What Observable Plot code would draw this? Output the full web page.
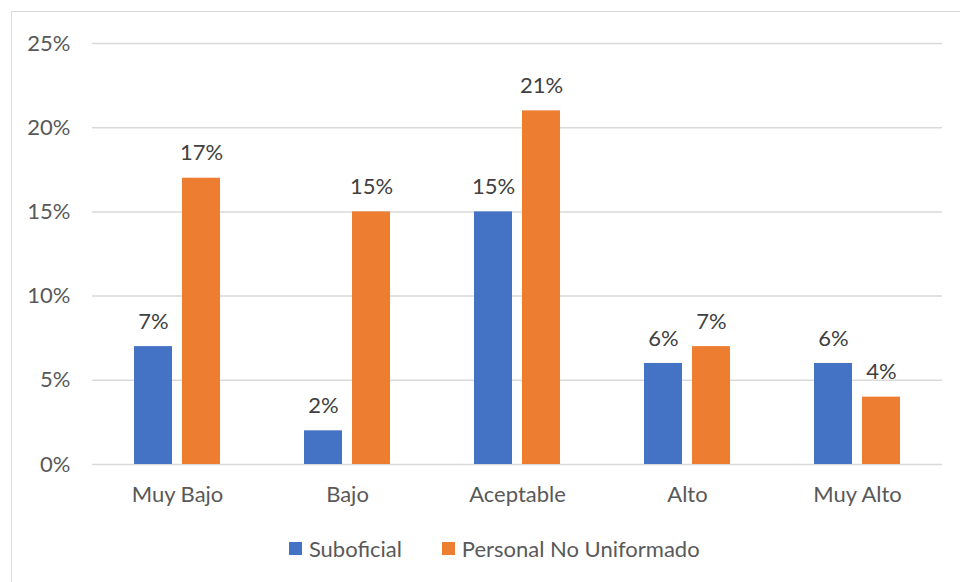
<!DOCTYPE html>
<html>
<head>
<meta charset="utf-8">
<script src="https://cdn.jsdelivr.net/npm/d3@7"></script>
<script src="https://cdn.jsdelivr.net/npm/@observablehq/plot@0.6"></script>
<style>
  html, body { margin: 0; padding: 0; background: #ffffff; }
  #wrap { position: relative; width: 960px; height: 582px; overflow: hidden; font-family: Lato, "Open Sans", sans-serif; }
  #frame { position: absolute; left: 11px; top: 11px; width: 2000px; height: 2000px;
           border-top: 1.6px solid #d9d9d9; border-left: 1.6px solid #d9d9d9; pointer-events: none; }
  #chart { position: absolute; left: 0; top: 0; }
  #legend { position: absolute; left: 289px; top: 535px; display: flex; align-items: center; gap: 40px;
            font-size: 22px; color: #595959; }
  .item { display: flex; align-items: center; }
  .sw { width: 13.4px; height: 13.4px; margin-right: 6.5px; }
</style>
</head>
<body>
<div id="wrap">
  <div id="frame"></div>
  <div id="chart"></div>
  <div id="legend"></div>
</div>
<script>
// Nivel por categoría y tipo de personal (proporciones)
const categorias = ["Muy Bajo", "Bajo", "Aceptable", "Alto", "Muy Alto"];
const series = ["Suboficial", "Personal No Uniformado"];
const suboficial = [0.07, 0.02, 0.15, 0.06, 0.06];
const noUniformado = [0.17, 0.15, 0.21, 0.07, 0.04];
const yTicks = [0, 0.05, 0.10, 0.15, 0.20, 0.25];
const colores = ["#4472C4", "#ED7D31"];

const data = categorias.flatMap((c, i) => [
  {categoria: c, serie: series[0], valor: suboficial[i]},
  {categoria: c, serie: series[1], valor: noUniformado[i]}
]);

const pct = d3.format(".0%");

const chart = Plot.plot({
  width: 960,
  height: 520,
  marginTop: 43,
  marginBottom: 56,
  marginLeft: 92,
  marginRight: 18,
  style: {background: "transparent", fontFamily: "Lato, 'Open Sans', sans-serif", fontSize: "22px", color: "#595959"},
  fx: {domain: categorias, paddingInner: 0, paddingOuter: 0, label: null, axis: "bottom", tickSize: 0, tickPadding: 22},
  x: {domain: series, paddingInner: 0.205, paddingOuter: 0.848, axis: null},
  y: {domain: [0, 0.25], ticks: yTicks, tickFormat: pct, label: null, tickSize: 0, tickPadding: 22},
  color: {domain: series, range: colores},
  marks: [
    Plot.ruleY(yTicks, {stroke: "#d9d9d9", strokeWidth: 1.5}),
    Plot.barY(data, {fx: "categoria", x: "serie", y: "valor", fill: "serie"}),
    Plot.text(data, {fx: "categoria", x: "serie", y: "valor", text: d => pct(d.valor), dy: -25, fill: "#404040", fontSize: 22})
  ]
});
document.getElementById("chart").appendChild(chart);

// Leyenda
const legend = document.getElementById("legend");
series.forEach((s, i) => {
  const item = document.createElement("div");
  item.className = "item";
  const sw = document.createElement("span");
  sw.className = "sw";
  sw.style.background = colores[i];
  const label = document.createElement("span");
  label.textContent = s;
  item.appendChild(sw);
  item.appendChild(label);
  legend.appendChild(item);
});
</script>
</body>
</html>
